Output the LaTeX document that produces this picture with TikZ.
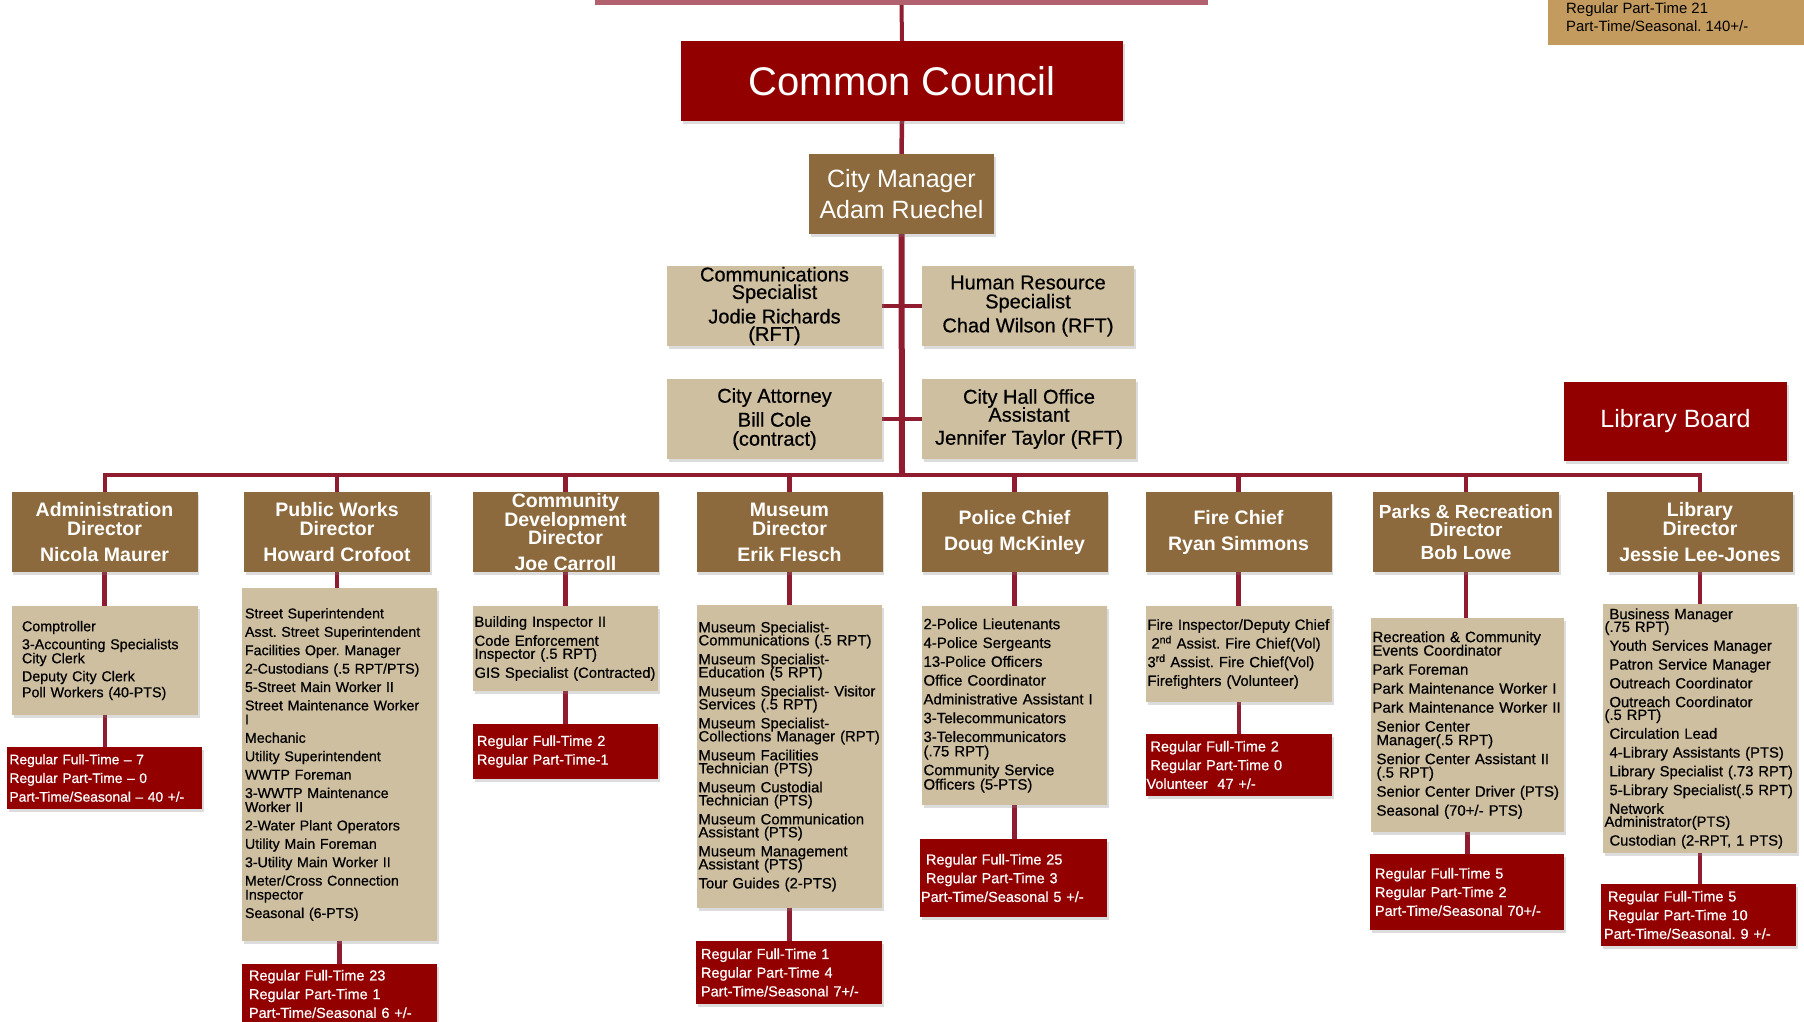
\documentclass[tikz,border=0pt]{standalone}
\usepackage{fontspec}
\setmainfont{Liberation Sans}
\newfontfamily\dk{Liberation Sans}[RawFeature={embolden=0.6}]
\usetikzlibrary{shadows,backgrounds}
\definecolor{cRed}{RGB}{146,0,0}
\definecolor{cBrown}{RGB}{140,106,61}
\definecolor{cTan}{RGB}{207,191,161}
\definecolor{cLine}{RGB}{144,28,48}
\definecolor{cGold}{RGB}{195,155,95}
\definecolor{cPink}{RGB}{178,98,110}
\newcommand\fs[2]{\fontsize{#1}{#2}\selectfont\lineskiplimit=-100pt\lineskip=0pt\frenchspacing}
\begin{document}
\begin{tikzpicture}[x=1pt,y=-1pt,
  shd/.style={drop shadow={shadow xshift=1.5pt,shadow yshift=-3pt,opacity=0.28}},
  box/.style={rectangle, inner sep=0pt, shd},
  redbox/.style={box, fill=cRed, text=white, align=left, font=\dk\fs{14.5}{18.7}},
  director/.style={box, fill=cBrown, text=white, align=center, font=\bfseries\fs{19.5}{19.5}, minimum width=186pt, minimum height=80pt},
  tanbox/.style={box, fill=cTan, text=black},
  staff/.style={tanbox, align=center, minimum height=80pt},
  listbox/.style={tanbox, align=left},
  conn/.style={draw=cLine, line width=4.5pt},
]
\useasboundingbox (0,0) rectangle (1804,1021);

% top
\node[rectangle, fill=cPink, minimum width=613pt, minimum height=25pt, inner sep=0pt] (topbar) at (901.5,-7.5) {};
\node[rectangle, fill=cGold, minimum width=256pt, minimum height=75pt, inner sep=0pt] (trbox) at (1676,7.5) {};
\node[anchor=west, align=left, inner sep=0pt, font=\fs{14.9}{18}] (trtext) at (1566,17) {Regular Part-Time 21\\Part-Time/Seasonal. 140+/-};

\node[box, fill=cRed, text=white, minimum width=442pt, minimum height=80pt, font=\fs{40}{40}] (cc) at (902,81) {Common Council};
\node[box, fill=cBrown, text=white, align=center, minimum width=185pt, minimum height=80pt, font=\fs{25}{31}] (cm) at (901.5,194) {City Manager\\Adam Ruechel};

\node[staff, minimum width=215pt, font=\dk\fs{20}{17.5}] (comm) at (774.5,306) {Communications\\Specialist\\[7pt]Jodie Richards\\(RFT)};
\node[staff, minimum width=212pt, font=\dk\fs{20}{19}] (hr) at (1028,306) {Human Resource\\Specialist\\[5pt]Chad Wilson (RFT)};
\node[staff, minimum width=215pt, font=\dk\fs{20}{19}] (atty) at (774.5,419) {City Attorney\\[5pt]Bill Cole\\(contract)};
\node[staff, minimum width=214pt, font=\dk\fs{20}{18}] (hall) at (1029,419) {City Hall Office\\Assistant\\[5pt]Jennifer Taylor (RFT)};

\node[box, fill=cRed, text=white, minimum width=223pt, minimum height=79pt, font=\fs{25}{25}] (lb) at (1675.5,421.5) {Library Board};

\coordinate (bus) at (902,475);

% directors
\node[director] (dadmin) at (104.5,532) {Administration\\Director\\[6pt]Nicola Maurer};
\node[director] (dpw) at (337,532) {Public Works\\Director\\[6pt]Howard Crofoot};
\node[director, font=\bfseries\fs{19.5}{18.5}] (dcd) at (565.5,532) {Community\\Development\\Director\\[7pt]Joe Carroll};
\node[director] (dmus) at (789.5,532) {Museum\\Director\\[6pt]Erik Flesch};
\node[director] (dpol) at (1014.5,532) {Police Chief\\[6.5pt]Doug McKinley};
\node[director] (dfire) at (1238.5,532) {Fire Chief\\[6.5pt]Ryan Simmons};
\node[director, font=\bfseries\fs{19}{18}] (dparks) at (1466,532) {Parks \& Recreation\\Director\\[5pt]Bob Lowe};
\node[director] (dlib) at (1700,532) {Library\\Director\\[6pt]Jessie Lee-Jones};

% lists
\node[listbox, minimum width=186pt, minimum height=109pt, text width=166pt, font=\dk\fs{14.3}{14}] (ladmin) at (105,660.5)
 {Comptroller\\[4pt]3-Accounting Specialists\\City Clerk\\[4pt]Deputy City Clerk\\[2pt]Poll Workers (40-PTS)};
\node[listbox, minimum width=195pt, minimum height=353pt, text width=189pt, font=\dk\fs{14.2}{14}] (lpw) at (339.5,764.5)
 {Street Superintendent\\[4.4pt]Asst. Street Superintendent\\[4.4pt]Facilities Oper. Manager\\[4.4pt]2-Custodians (.5 RPT/PTS)\\[4.4pt]5-Street Main Worker II\\[4.4pt]Street Maintenance Worker\\I\\[4.4pt]Mechanic\\[4.4pt]Utility Superintendent\\[4.4pt]WWTP Foreman\\[4.4pt]3-WWTP Maintenance\\Worker II\\[4.4pt]2-Water Plant Operators\\[4.4pt]Utility Main Foreman\\[4.4pt]3-Utility Main Worker II\\[4.4pt]Meter/Cross Connection\\Inspector\\[4.4pt]Seasonal (6-PTS)};
\node[listbox, minimum width=185pt, minimum height=85pt, text width=182pt, font=\dk\fs{14.8}{13}] (lcd) at (565.5,648.5)
 {Building Inspector II\\[6pt]Code Enforcement\\Inspector (.5 RPT)\\[6pt]GIS Specialist (Contracted)};
\node[listbox, minimum width=185pt, minimum height=303pt, text width=182pt, font=\dk\fs{14.9}{13}] (lmus) at (789.5,756.5)
 {Museum Specialist-\\Communications (.5 RPT)\\[6pt]Museum Specialist-\\Education (5 RPT)\\[6pt]Museum Specialist- Visitor\\Services (.5 RPT)\\[6pt]Museum Specialist-\\Collections Manager (RPT)\\[6pt]Museum Facilities\\Technician (PTS)\\[6pt]Museum Custodial\\Technician (PTS)\\[6pt]Museum Communication\\Assistant (PTS)\\[6pt]Museum Management\\Assistant (PTS)\\[6pt]Tour Guides (2-PTS)};
\node[listbox, minimum width=185pt, minimum height=199pt, text width=182pt, font=\dk\fs{15}{14.4}] (lpol) at (1014.5,705.5)
 {2-Police Lieutenants\\[4.4pt]4-Police Sergeants\\[4.4pt]13-Police Officers\\[4.4pt]Office Coordinator\\[4.4pt]Administrative Assistant I\\[4.4pt]3-Telecommunicators\\[4.4pt]3-Telecommunicators\\(.75 RPT)\\[4.4pt]Community Service\\Officers (5-PTS)};
\node[listbox, minimum width=186pt, minimum height=96pt, text width=183pt, font=\dk\fs{14.8}{14.5}] (lfire) at (1239,654)
 {Fire Inspector/Deputy Chief\\[4.2pt]\hspace*{4pt}2\textsuperscript{nd} Assist. Fire Chief(Vol)\\[4.2pt]3\textsuperscript{rd} Assist. Fire Chief(Vol)\\[4.2pt]Firefighters (Volunteer)};
\node[listbox, minimum width=193pt, minimum height=214pt, text width=190pt, font=\dk\fs{15}{13.5}] (lparks) at (1467.5,725)
 {Recreation \& Community\\Events Coordinator\\[5.5pt]Park Foreman\\[5.5pt]Park Maintenance Worker I\\[5.5pt]Park Maintenance Worker II\\[5.5pt]\hspace*{4pt}Senior Center\\\hspace*{4pt}Manager(.5 RPT)\\[5.5pt]\hspace*{4pt}Senior Center Assistant II\\\hspace*{4pt}(.5 RPT)\\[5.5pt]\hspace*{4pt}Senior Center Driver (PTS)\\[5.5pt]\hspace*{4pt}Seasonal (70+/- PTS)};
\node[listbox, minimum width=194pt, minimum height=249pt, text width=191pt, font=\dk\fs{14.8}{12.8}] (llib) at (1700,728.5)
 {\hspace*{5pt}Business Manager\\(.75 RPT)\\[6pt]\hspace*{5pt}Youth Services Manager\\[6pt]\hspace*{5pt}Patron Service Manager\\[6pt]\hspace*{5pt}Outreach Coordinator\\[6pt]\hspace*{5pt}Outreach Coordinator\\(.5 RPT)\\[6pt]\hspace*{5pt}Circulation Lead\\[6pt]\hspace*{5pt}4-Library Assistants (PTS)\\[6pt]\hspace*{5pt}Library Specialist (.73 RPT)\\[6pt]\hspace*{5pt}5-Library Specialist(.5 RPT)\\[6pt]\hspace*{5pt}Network\\Administrator(PTS)\\[6pt]\hspace*{5pt}Custodian (2-RPT, 1 PTS)};

% red totals
\node[redbox, minimum width=195pt, minimum height=62pt, text width=190pt, font=\dk\fs{13.8}{18.7}] (radmin) at (104.5,778)
 {Regular Full-Time – 7\\Regular Part-Time – 0\\Part-Time/Seasonal – 40 +/-};
\node[redbox, minimum width=195pt, minimum height=60pt, text width=181pt] (rpw) at (339.5,994)
 {Regular Full-Time 23\\Regular Part-Time 1\\Part-Time/Seasonal 6 +/-};
\node[redbox, minimum width=185pt, minimum height=55pt, text width=177pt] (rcd) at (565.5,751.5)
 {Regular Full-Time 2\\Regular Part-Time-1};
\node[redbox, minimum width=186pt, minimum height=63pt, text width=176pt] (rmus) at (789,972.5)
 {Regular Full-Time 1\\Regular Part-Time 4\\Part-Time/Seasonal 7+/-};
\node[redbox, minimum width=187pt, minimum height=78pt, text width=185pt] (rpol) at (1013.5,878)
 {\hspace*{5pt}Regular Full-Time 25\\\hspace*{5pt}Regular Part-Time 3\\Part-Time/Seasonal 5 +/-};
\node[redbox, minimum width=186pt, minimum height=62pt, text width=185pt] (rfire) at (1239,765)
 {\hspace*{4pt}Regular Full-Time 2\\\hspace*{4pt}Regular Part-Time 0\\Volunteer\ \ 47 +/-};
\node[redbox, minimum width=194pt, minimum height=76pt, text width=184pt] (rparks) at (1467,892)
 {Regular Full-Time 5\\Regular Part-Time 2\\Part-Time/Seasonal 70+/-};
\node[redbox, minimum width=195pt, minimum height=62pt, text width=189pt] (rlib) at (1698.5,915)
 {\hspace*{4pt}Regular Full-Time 5\\\hspace*{4pt}Regular Part-Time 10\\Part-Time/Seasonal. 9 +/-};

\begin{scope}[on background layer]
\draw[conn, line width=4pt] (topbar.south) -- (cc.north);
\draw[conn] (cc.south) -- (cm.north);
\draw[conn, line width=6pt] (cm.south) -- (bus);
\draw[conn] (comm.east) -- (hr.west);
\draw[conn] (atty.east) -- (hall.west);
\draw[conn, line width=4pt] (dadmin.north) -- (dadmin.north |- bus) -- (dlib.north |- bus) -- (dlib.north);
\foreach \d in {dpw,dcd,dmus,dpol,dfire,dparks}
  \draw[conn] (\d.north) -- (\d.north |- bus);
\foreach \d/\l/\r in {dadmin/ladmin/radmin, dpw/lpw/rpw, dcd/lcd/rcd, dmus/lmus/rmus, dpol/lpol/rpol, dfire/lfire/rfire, dparks/lparks/rparks, dlib/llib/rlib}{
  \draw[conn] (\d.south) -- (\d.south |- \l.north);
  \draw[conn] (\l.south) -- (\l.south |- \r.north);
}
\end{scope}
\end{tikzpicture}
\end{document}
